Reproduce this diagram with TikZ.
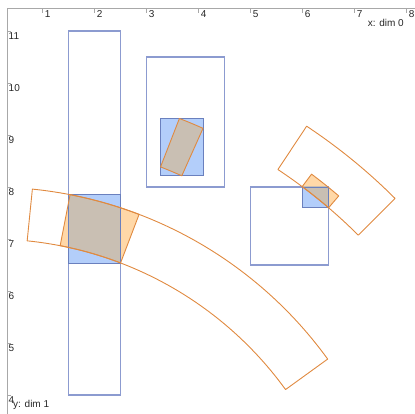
\documentclass[tikz,border=0pt]{standalone}
\usepackage{fontspec}
\setmainfont{Liberation Sans}
\definecolor{axisc}{HTML}{A8A8A8}
\definecolor{bline}{HTML}{8C9BD0}
\definecolor{bfill}{HTML}{B3CEFA}
\definecolor{bdark}{HTML}{6A80BE}
\definecolor{oline}{HTML}{E08A40}
\definecolor{ofill}{HTML}{FFD8A8}
\definecolor{ovl}{HTML}{C9BFB3}
\newcommand\sect[4]{(#3:#1) arc[start angle=#3,end angle=#4,radius=#1*52pt] -- (#4:#2) arc[start angle=#4,end angle=#3,radius=#2*52pt] -- cycle}
\begin{document}
\begin{tikzpicture}[x=52pt,y=52pt,
  axisline/.style={draw=axisc,line width=0.8pt},
  tickmark/.style={draw=axisc,line width=0.6pt},
  ticklab/.style={inner sep=0pt,text=black!85,font=\fontsize{10}{11}\selectfont},
  boxline/.style={draw=bline,line width=1.2pt},
  boxfill/.style={fill=bfill,draw=bdark,line width=0.9pt},
  secline/.style={draw=oline,line width=0.9pt,line join=round},
  secfill/.style={fill=ofill},
  ovfill/.style={fill=ovl}]
\useasboundingbox (0.1788,3.6346) rectangle (8.1596,11.596);
% axes
\draw[axisline] (0.3135,3.6346) -- (0.3135,11.442) -- (8.1596,11.442);
\foreach \k in {1,...,8}{
  \draw[tickmark] (\k,11.442) -- ++(0,-5pt);
  \node[ticklab,anchor=north west,xshift=2pt,yshift=-2.5pt] (xt\k) at (\k,11.442) {\k};
}
\foreach \k in {4,...,11}{
  \draw[tickmark] (0.3135,\k) -- ++(4pt,0);
  \node[ticklab,anchor=north west,xshift=1.5pt,yshift=-1pt] (yt\k) at (0.3135,\k) {\k};
}
\node[ticklab,anchor=base east] (xlab) at (7.948,11.083) {x: dim 0};
\node[ticklab,anchor=base west] (ylab) at (0.429,3.769) {y: dim 1};
% blue outline boxes
\draw[boxline] (1.5,4) rectangle (2.5,11);
\draw[boxline] (3,8) rectangle (4.5,10.5);
\draw[boxline] (5,6.5) rectangle (6.5,8);
% fills
\path[secfill] \sect{7}{8}{69.1}{79.0};
\path[secfill] \sect{9}{10}{65.9}{68.72};
\path[secfill] \sect{10}{10.3}{49.47}{53.2};
\path[fill=bfill] (1.5,6.539) rectangle (2.5,7.853);
\path[fill=bfill] (3.266,8.215) rectangle (4.083,9.318);
\path[fill=bfill] (5.990,7.602) rectangle (6.5,8);
\begin{scope}
\clip (1.5,6.539) rectangle (2.5,7.853);
\path[ovfill] \sect{7}{8}{69.1}{79.0};
\end{scope}
\begin{scope}
\clip (3.266,8.215) rectangle (4.083,9.318);
\path[ovfill] \sect{9}{10}{65.9}{68.72};
\end{scope}
\begin{scope}
\clip (5.990,7.602) rectangle (6.5,8);
\path[ovfill] \sect{10}{10.3}{49.47}{53.2};
\end{scope}
\draw[draw=bdark,line width=0.9pt] (1.5,6.539) rectangle (2.5,7.853);
\draw[draw=bdark,line width=0.9pt] (3.266,8.215) rectangle (4.083,9.318);
\draw[draw=bdark,line width=0.9pt] (5.990,7.602) rectangle (6.5,8);
% orange outlines
\draw[secline] \sect{7}{8}{35.9}{84.25};
\draw[secline] \sect{7}{8}{69.1}{79.0};
\draw[secline] \sect{9}{10}{65.9}{68.72};
\draw[secline] \sect{10}{11}{45.02}{56.47};
\draw[secline] \sect{10}{10.3}{49.47}{53.2};
\end{tikzpicture}
\end{document}
